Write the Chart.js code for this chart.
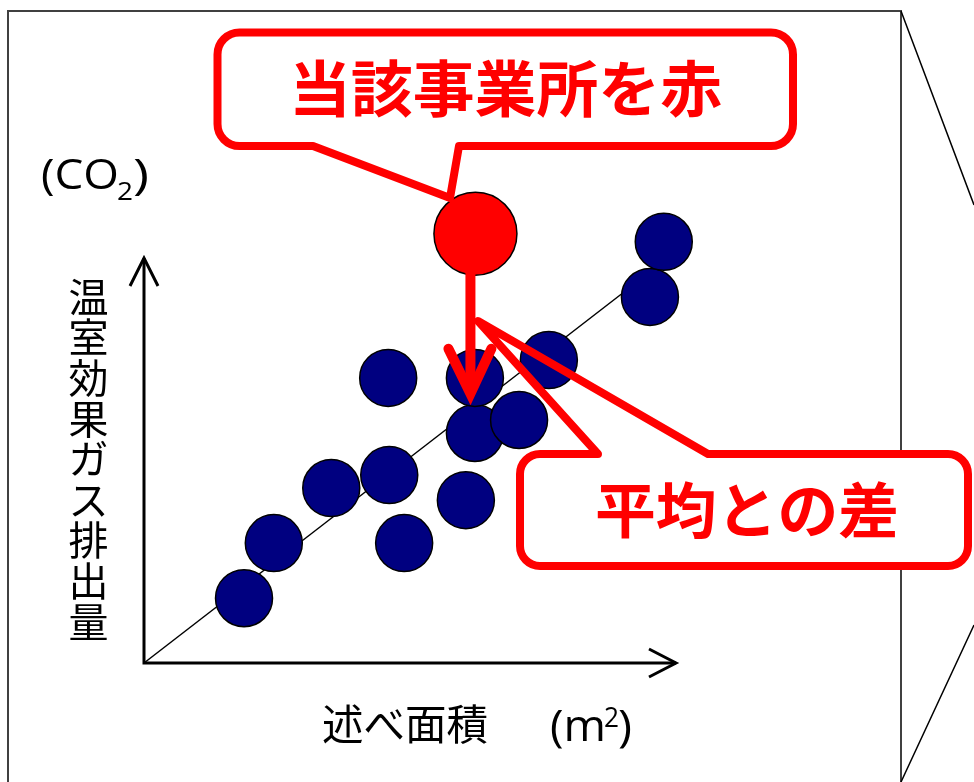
<!DOCTYPE html>
<html>
<head>
<meta charset="utf-8">
<script src="https://cdn.jsdelivr.net/npm/chart.js@4"></script>
<style>
  html, body { margin: 0; padding: 0; background: #fff; }
  canvas { display: block; }
</style>
</head>
<body>
<canvas id="c" width="974" height="782"></canvas>
<script>
// ---- data (arbitrary units) ----
const facilityArea = [18.8, 24.4, 35.2, 46.1, 48.9, 60.5, 62.2, 70.5, 45.9, 62.2, 76.1, 95.1, 97.7];
const facilityCO2  = [16.0, 29.6, 43.2, 46.4, 29.6, 40.2, 56.8, 60.0, 70.4, 70.4, 74.8, 90.4, 104.0];
const targetArea   = [62.3];
const targetCO2    = [106.0];
const trendArea    = [0, 92];
const trendCO2     = [0, 93.4];
const yAxisLabel   = '温室効果ガス排出量';
const xAxisLabel   = '述べ面積';
const calloutTop   = '当該事業所を赤';
const calloutDiff  = '平均との差';

const JP = '"Noto Sans CJK JP", "Noto Sans", sans-serif';
const LAT = '"Open Sans", "Liberation Sans", sans-serif';

function toPts(xs, ys) { return xs.map((v, i) => ({ x: v, y: ys[i] })); }

function fitText(ctx, txt, left, y, w) {
  const m = ctx.measureText(txt).width;
  ctx.save();
  ctx.translate(left, y);
  ctx.scale(w / m, 1);
  ctx.textAlign = 'left';
  ctx.fillText(txt, 0, 0);
  ctx.restore();
}

function rrPath(ctx, l, t, r, b, rad) {
  ctx.beginPath();
  ctx.moveTo(l + rad, t);
  ctx.lineTo(r - rad, t);
  ctx.arcTo(r, t, r, t + rad, rad);
  ctx.lineTo(r, b - rad);
  ctx.arcTo(r, b, r - rad, b, rad);
  ctx.lineTo(l + rad, b);
  ctx.arcTo(l, b, l, b - rad, rad);
  ctx.lineTo(l, t + rad);
  ctx.arcTo(l, t, l + rad, t, rad);
  ctx.closePath();
}

const decor = {
  id: 'decor',
  beforeDatasetsDraw(chart) {
    const { ctx, scales: { x, y } } = chart;
    ctx.save();
    // slide frame
    ctx.strokeStyle = '#404040';
    ctx.lineWidth = 2;
    ctx.beginPath();
    ctx.moveTo(8, 782); ctx.lineTo(8, 11); ctx.lineTo(901, 11); ctx.lineTo(901, 782);
    ctx.stroke();
    ctx.strokeStyle = '#000';
    ctx.lineWidth = 1.5;
    ctx.beginPath();
    ctx.moveTo(901, 11); ctx.lineTo(974, 205);
    ctx.moveTo(974, 625); ctx.lineTo(901, 782);
    ctx.stroke();

    // axes with arrow heads
    const x0 = x.getPixelForValue(0), y0 = y.getPixelForValue(0);
    const xt = x.getPixelForValue(100), yt = y.getPixelForValue(100);
    ctx.strokeStyle = '#000';
    ctx.lineWidth = 3;
    ctx.lineJoin = 'miter';
    ctx.beginPath();
    ctx.moveTo(x0, yt); ctx.lineTo(x0, y0); ctx.lineTo(xt, y0);
    ctx.stroke();
    ctx.beginPath();
    ctx.moveTo(x0 - 14, yt + 28); ctx.lineTo(x0, yt); ctx.lineTo(x0 + 14, yt + 28);
    ctx.moveTo(xt - 27, y0 - 14); ctx.lineTo(xt, y0); ctx.lineTo(xt - 27, y0 + 14);
    ctx.stroke();

    // texts
    ctx.fillStyle = '#000';
    ctx.textBaseline = 'alphabetic';
    ctx.font = '42px ' + LAT;
    fitText(ctx, '(CO', 41, 189, 78);
    ctx.font = '25px ' + LAT;
    fitText(ctx, '2', 117, 200, 16);
    ctx.font = '42px ' + LAT;
    fitText(ctx, ')', 133, 189, 16);

    ctx.font = '44px ' + LAT;
    fitText(ctx, '(m', 550, 741, 56);
    ctx.font = '27px ' + LAT;
    fitText(ctx, '2', 604, 727, 15);
    ctx.font = '44px ' + LAT;
    fitText(ctx, ')', 618, 741, 14);

    ctx.textBaseline = 'middle';
    ctx.font = '42px ' + JP;
    fitText(ctx, xAxisLabel, 322, 724, 166);

    ctx.font = '40px ' + JP;
    ctx.textAlign = 'center';
    [...yAxisLabel].forEach((ch, i) => {
      ctx.fillText(ch, 88.5, 296.5 + i * 40.6);
    });
    ctx.restore();
  },
  afterDatasetsDraw(chart) {
    const { ctx, scales: { x, y } } = chart;
    ctx.save();
    const red = '#FF0000';

    // arrow from the highlighted facility down toward the average line
    const px = x.getPixelForValue(targetArea[0]) - 5;
    const slope = trendCO2[1] / trendArea[1];
    const tipY = y.getPixelForValue(slope * x.getValueForPixel(px)) - 17;
    const topY = y.getPixelForValue(targetCO2[0]) + 38;
    ctx.strokeStyle = red;
    ctx.lineWidth = 10;
    ctx.lineCap = 'butt';
    ctx.beginPath();
    ctx.moveTo(px, topY); ctx.lineTo(px, tipY - 4);
    ctx.stroke();
    ctx.lineCap = 'round';
    ctx.lineJoin = 'miter';
    ctx.beginPath();
    ctx.moveTo(px - 22, tipY - 45); ctx.lineTo(px, tipY); ctx.lineTo(px + 21, tipY - 45);
    ctx.stroke();

    // callout 1
    ctx.lineCap = 'butt';
    ctx.lineJoin = 'round';
    ctx.lineWidth = 8;
    ctx.fillStyle = '#fff';
    rrPath(ctx, 217.5, 32.5, 793, 146, 22);
    ctx.fill();
    {
      const l = 217.5, t = 32.5, r = 793, b = 146, rad = 22;
      ctx.beginPath();
      ctx.moveTo(l + rad, t);
      ctx.lineTo(r - rad, t);
      ctx.arcTo(r, t, r, t + rad, rad);
      ctx.lineTo(r, b - rad);
      ctx.arcTo(r, b, r - rad, b, rad);
      ctx.lineTo(459, b);
      ctx.lineTo(450, 198);
      ctx.lineTo(313, b);
      ctx.lineTo(l + rad, b);
      ctx.arcTo(l, b, l, b - rad, rad);
      ctx.lineTo(l, t + rad);
      ctx.arcTo(l, t, l + rad, t, rad);
      ctx.closePath();
      ctx.strokeStyle = red;
      ctx.stroke();
    }

    // callout 2
    ctx.fillStyle = '#fff';
    rrPath(ctx, 520, 454, 968, 566, 20);
    ctx.fill();
    {
      const l = 520, t = 454, r = 968, b = 566, rad = 20;
      ctx.beginPath();
      ctx.moveTo(l + rad, t);
      ctx.lineTo(598, t);
      ctx.lineTo(478, 321);
      ctx.lineTo(708, t);
      ctx.lineTo(r - rad, t);
      ctx.arcTo(r, t, r, t + rad, rad);
      ctx.lineTo(r, b - rad);
      ctx.arcTo(r, b, r - rad, b, rad);
      ctx.lineTo(l + rad, b);
      ctx.arcTo(l, b, l, b - rad, rad);
      ctx.lineTo(l, t + rad);
      ctx.arcTo(l, t, l + rad, t, rad);
      ctx.closePath();
      ctx.strokeStyle = red;
      ctx.stroke();
    }

    ctx.fillStyle = red;
    ctx.textBaseline = 'middle';
    ctx.font = 'bold 61px ' + JP;
    fitText(ctx, calloutTop, 289, 89, 433);
    ctx.font = 'bold 60px ' + JP;
    fitText(ctx, calloutDiff, 595, 510, 304);
    ctx.restore();
  }
};

new Chart(document.getElementById('c'), {
  type: 'scatter',
  data: {
    datasets: [
      {
        label: 'target',
        data: toPts(targetArea, targetCO2),
        pointRadius: 41.5,
        pointHoverRadius: 41.5,
        pointBackgroundColor: '#FF0000',
        pointBorderColor: '#000',
        pointBorderWidth: 1.5,
        clip: false,
        order: 0
      },
      {
        label: 'facilities',
        data: toPts(facilityArea, facilityCO2),
        pointRadius: 28.5,
        pointHoverRadius: 28.5,
        pointBackgroundColor: '#000080',
        pointBorderColor: '#000',
        pointBorderWidth: 1.5,
        clip: false,
        order: 1
      },
      {
        label: 'average',
        data: toPts(trendArea, trendCO2),
        showLine: true,
        borderColor: '#000',
        borderWidth: 1.5,
        pointRadius: 0,
        clip: false,
        order: 2
      }
    ]
  },
  options: {
    responsive: false,
    devicePixelRatio: 1,
    animation: false,
    events: [],
    layout: { padding: { left: 144, right: 298, top: 177, bottom: 119 } },
    scales: {
      x: { type: 'linear', min: 0, max: 100, display: false },
      y: { type: 'linear', min: 0, max: 120, display: false }
    },
    plugins: { legend: { display: false }, tooltip: { enabled: false } }
  },
  plugins: [decor]
});
</script>
</body>
</html>
